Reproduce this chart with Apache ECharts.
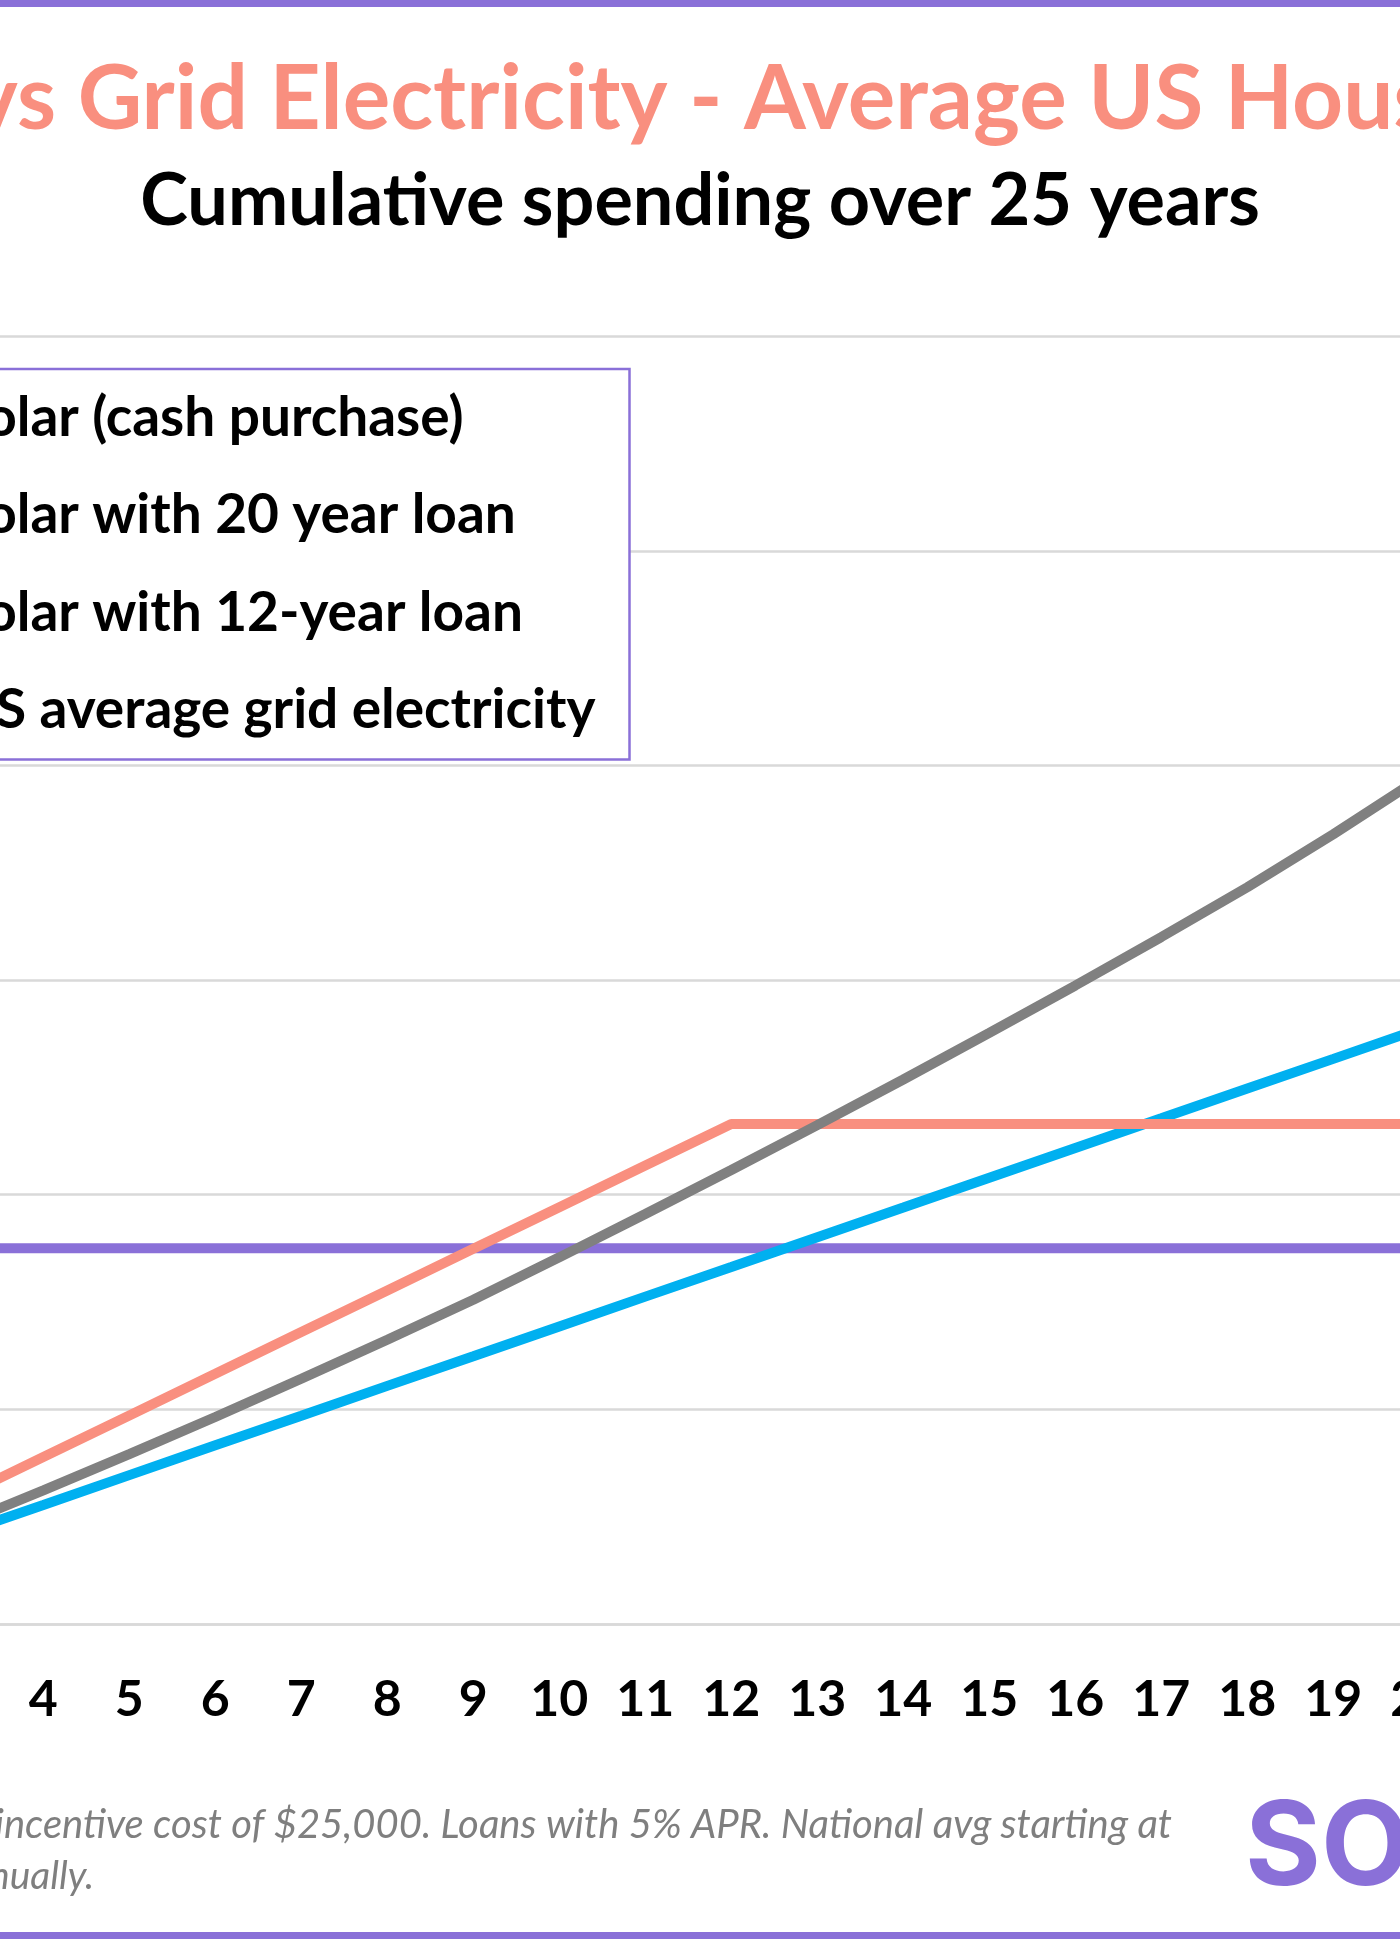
<!DOCTYPE html>
<html>
<head>
<meta charset="utf-8">
<script src="https://cdn.jsdelivr.net/npm/echarts@6/dist/echarts.min.js"></script>
<style>
  html, body { margin: 0; padding: 0; background: #ffffff; }
  #chart { width: 1400px; height: 1939px; }
</style>
</head>
<body>
<div id="chart"></div>
<script>
const years = [3, 4, 5, 6, 7, 8, 9, 10, 11, 12, 13, 14, 15, 16, 17, 18, 19, 20];
const seriesNames = [
  'Solar (cash purchase)',
  'Solar with 20 year loan',
  'Solar with 12-year loan',
  'US average grid electricity'
];
const cashPurchase = [17500, 17500, 17500, 17500, 17500, 17500, 17500, 17500, 17500, 17500, 17500, 17500, 17500, 17500, 17500, 17500, 17500, 17500];
const loan20 = [4160, 5540, 6930, 8320, 9700, 11090, 12470, 13860, 15250, 16630, 18020, 19400, 20790, 22180, 23560, 24950, 26330, 27720];
const loan12 = [5830, 7770, 9710, 11650, 13600, 15540, 17480, 19420, 21360, 23300, 23300, 23300, 23300, 23300, 23300, 23300, 23300, 23300];
const gridElectricity = [4570, 6220, 7910, 9640, 11420, 13240, 15100, 17080, 19100, 21150, 23240, 25370, 27540, 29750, 32010, 34330, 36800, 39400];
const yMin = 0, yMax = 60000, yStep = 10000;

const titleText = 'vs Grid Electricity - Average US Hous';
const subtitleText = 'Cumulative spending over 25 years';
const footLine1 = '-incentive cost of $25,000. Loans with 5% APR. National avg starting at';
const footLine2 = 'nually.';
const logoText = 'SO';

const colors = ['#8A70D8', '#00B0F0', '#F98F7F', '#808080'];
const valueSets = [cashPurchase, loan20, loan12, gridElectricity];

const chart = echarts.init(document.getElementById('chart'), null, { renderer: 'canvas' });

const option = {
  backgroundColor: '#ffffff',
  animation: false,
  textStyle: { fontFamily: 'Lato' },
  grid: { left: -42.7, right: -19.3, top: 336.5, bottom: 315.2, containLabel: false, outerBoundsMode: 'none' },
  legend: {
    data: seriesNames,
    orient: 'vertical',
    right: 770.5,
    top: 369,
    padding: [21.5, 34, 21.5, 10],
    itemGap: 41.2,
    itemWidth: 40,
    itemHeight: 14,
    icon: 'rect',
    borderColor: '#8A70D8',
    borderWidth: 2.5,
    backgroundColor: '#ffffff',
    textStyle: { fontFamily: 'Lato', fontWeight: 'bold', fontSize: 55, color: '#000000', lineHeight: 56 }
  },
  xAxis: {
    type: 'value',
    min: years[0],
    max: years[years.length - 1],
    interval: 1,
    axisLine: { show: true, lineStyle: { color: '#D9D9D9', width: 2.5 } },
    axisTick: { show: false },
    splitLine: { show: false },
    axisLabel: { color: '#000000', fontFamily: 'Lato', fontWeight: 'bold', fontSize: 50, margin: 51, showMinLabel: true, showMaxLabel: true, hideOverlap: false }
  },
  yAxis: {
    type: 'value',
    min: yMin,
    max: yMax,
    interval: yStep,
    axisLine: { show: false },
    axisTick: { show: false },
    axisLabel: { show: false },
    splitLine: { show: true, lineStyle: { color: '#D9D9D9', width: 2.5 } }
  },
  series: seriesNames.map((name, i) => ({
    name: name,
    type: 'line',
    data: years.map((y, j) => [y, valueSets[i][j]]),
    symbol: 'none',
    lineStyle: { color: colors[i], width: 10 },
    itemStyle: { color: colors[i] },
    z: 2 + i
  })),
  graphic: [
    { type: 'rect', shape: { x: 0, y: 0, width: 1400, height: 7 }, style: { fill: '#8A70D8' }, z: 100 },
    { type: 'rect', shape: { x: 0, y: 1932, width: 1400, height: 7 }, style: { fill: '#8A70D8' }, z: 100 },
    { type: 'text', x: -29, y: 100, style: { text: titleText, font: 'bold 89px Lato', fill: '#F98F7F', align: 'left', verticalAlign: 'middle' }, z: 100 },
    { type: 'text', x: 700, y: 202, style: { text: subtitleText, font: 'bold 72px Lato', fill: '#000000', align: 'center', verticalAlign: 'middle' }, z: 100 },
    { type: 'text', x: 1172, y: 1825, style: { text: footLine1, font: 'italic 40px Lato', fill: '#7F7F7F', align: 'right', verticalAlign: 'middle' }, z: 100 },
    { type: 'text', x: -11, y: 1876, style: { text: footLine2, font: 'italic 39px Lato', fill: '#7F7F7F', align: 'left', verticalAlign: 'middle' }, z: 100 },
    { type: 'text', x: 1245, y: 1850, style: { text: logoText, font: 'bold 116px Inter', fill: '#8A70D8', align: 'left', verticalAlign: 'middle' }, z: 100 }
  ]
};
chart.setOption(option);
</script>
</body>
</html>
